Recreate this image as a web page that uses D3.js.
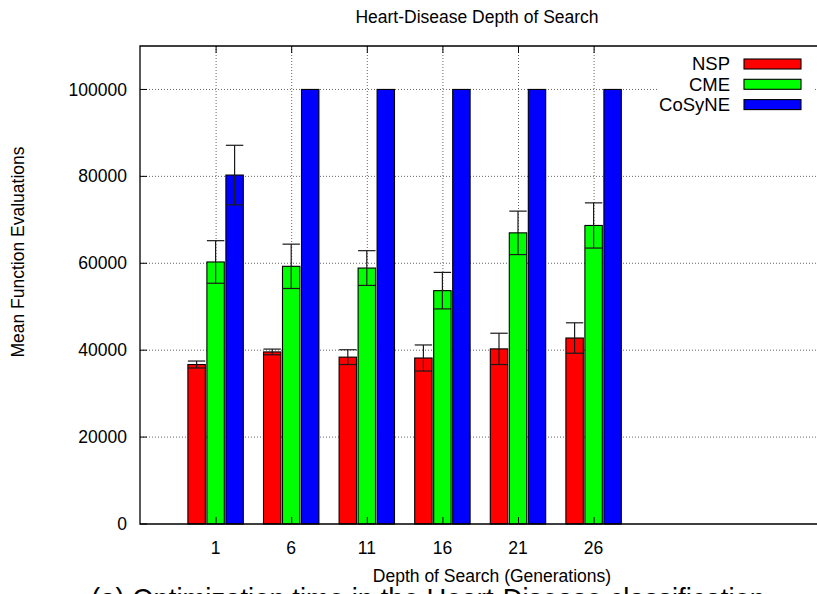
<!DOCTYPE html>
<html>
<head>
<meta charset="utf-8">
<script src="https://cdn.jsdelivr.net/npm/d3@7"></script>
<style>
  body { margin: 0; background: #fff; }
  svg { display: block; }
  text { font-family: "Liberation Sans", Arial, Helvetica, sans-serif; fill: #000; }
</style>
</head>
<body>
<svg id="chart" width="817" height="594"></svg>
<script>
const categories = ["1", "6", "11", "16", "21", "26"];
const seriesNames = ["NSP", "CME", "CoSyNE"];
const seriesColors = ["#ff0000", "#00ff00", "#0000ff"];
const nspMean = [36700, 39600, 38400, 38200, 40300, 42800];
const nspErr  = [800, 650, 1700, 3000, 3600, 3500];
const cmeMean = [60300, 59300, 58900, 53700, 67000, 68700];
const cmeErr  = [4900, 5100, 4000, 4200, 5000, 5200];
const cosyneMean = [80300, 100000, 100000, 100000, 100000, 100000];
const cosyneErr  = [6850, 0, 0, 0, 0, 0];
const yTicks = [0, 20000, 40000, 60000, 80000, 100000];

const titleText = "Heart-Disease Depth of Search";
const xLabelText = "Depth of Search (Generations)";
const yLabelText = "Mean Function Evaluations";
const captionText = "(a) Optimization time in the Heart-Disease classification";

const means = [nspMean, cmeMean, cosyneMean];
const errs = [nspErr, cmeErr, cosyneErr];

const svg = d3.select("#chart");
const L = 140, T = 46, B = 524, R = 820.4;

const x = d3.scaleLinear().domain([-1, 8]).range([L, R]);
const y = d3.scaleLinear().domain([0, 110000]).range([B, T]);
const step = 0.2513, bw = 0.2302;

// grid
const g = svg.append("g");
g.selectAll("line.hg").data(yTicks.slice(1)).join("line")
  .attr("x1", L).attr("x2", R)
  .attr("y1", d => y(d)).attr("y2", d => y(d))
  .attr("stroke", "#666").attr("stroke-width", 1).attr("stroke-dasharray", "1,2");
g.selectAll("line.vg").data(categories).join("line")
  .attr("x1", (d, i) => x(i) + 0.5).attr("x2", (d, i) => x(i) + 0.5)
  .attr("y1", T).attr("y2", B)
  .attr("stroke", "#666").attr("stroke-width", 1).attr("stroke-dasharray", "1,2");

// legend background box (hides grid)
svg.append("rect").attr("x", 657).attr("y", 52).attr("width", 158).attr("height", 62).attr("fill", "#fff");

// bars
means.forEach((arr, s) => {
  const sg = svg.append("g");
  sg.selectAll("rect").data(arr).join("rect")
    .attr("x", (d, i) => x(i + (s - 1) * step - bw / 2))
    .attr("width", x(bw) - x(0))
    .attr("y", d => y(d))
    .attr("height", d => y(0) - y(d))
    .attr("fill", seriesColors[s])
    .attr("stroke", "#000").attr("stroke-width", 1.1);
  const eg = svg.append("g").attr("stroke", "#1a1a1a").attr("stroke-width", 1.2);
  arr.forEach((d, i) => {
    const e = errs[s][i];
    if (!e) return;
    const cx = x(i + (s - 1) * step);
    const hw = (x(bw) - x(0)) / 2;
    eg.append("line").attr("x1", cx).attr("x2", cx).attr("y1", y(d + e)).attr("y2", y(d - e));
    eg.append("line").attr("x1", cx - hw).attr("x2", cx + hw).attr("y1", y(d + e)).attr("y2", y(d + e));
    eg.append("line").attr("x1", cx - hw).attr("x2", cx + hw).attr("y1", y(d - e)).attr("y2", y(d - e));
  });
});

// border
svg.append("path")
  .attr("d", `M${R},${T}H${L}V${B}H${R}`)
  .attr("fill", "none").attr("stroke", "#000").attr("stroke-width", 1.3);

// ticks (inward, mirrored on top)
const tk = svg.append("g").attr("stroke", "#000").attr("stroke-width", 1);
yTicks.forEach(v => {
  tk.append("line").attr("x1", L).attr("x2", L + 7).attr("y1", y(v)).attr("y2", y(v));
});
categories.forEach((c, i) => {
  tk.append("line").attr("x1", x(i) + 0.5).attr("x2", x(i) + 0.5).attr("y1", B).attr("y2", B - 7);
  tk.append("line").attr("x1", x(i) + 0.5).attr("x2", x(i) + 0.5).attr("y1", T).attr("y2", T + 7);
});

// tick labels
const fs = 17.5;
svg.append("g").selectAll("text").data(yTicks).join("text")
  .attr("x", 127).attr("y", d => y(d)).attr("dy", "0.35em")
  .attr("text-anchor", "end").attr("font-size", fs)
  .text(d => d);
svg.append("g").selectAll("text").data(categories).join("text")
  .attr("x", (d, i) => x(i)).attr("y", 548).attr("dy", "0.35em")
  .attr("text-anchor", "middle").attr("font-size", fs)
  .text(d => d);

// titles
svg.append("text").attr("x", 477).attr("y", 17).attr("dy", "0.35em")
  .attr("text-anchor", "middle").attr("font-size", fs).text(titleText);
svg.append("text").attr("x", 492).attr("y", 576).attr("dy", "0.35em")
  .attr("text-anchor", "middle").attr("font-size", fs).text(xLabelText);
svg.append("text").attr("transform", "translate(18,252) rotate(-90)").attr("dy", "0.35em")
  .attr("text-anchor", "middle").attr("font-size", fs).text(yLabelText);

// legend
seriesNames.forEach((n, s) => {
  const cy = 64 + s * 20.3;
  svg.append("text").attr("x", 730).attr("y", cy).attr("dy", "0.35em")
    .attr("text-anchor", "end").attr("font-size", 18.5).text(n);
  svg.append("rect").attr("x", 744).attr("y", cy - 5).attr("width", 57).attr("height", 10)
    .attr("fill", seriesColors[s]).attr("stroke", "#000").attr("stroke-width", 1.1);
});

// caption (cut off at bottom, as in the reference)
svg.append("text").attr("x", 91).attr("y", 609)
  .attr("font-family", "'Liberation Serif', 'Times New Roman', serif")
  .attr("font-size", 29).attr("textLength", 674).attr("lengthAdjust", "spacingAndGlyphs")
  .text(captionText);
</script>
</body>
</html>
